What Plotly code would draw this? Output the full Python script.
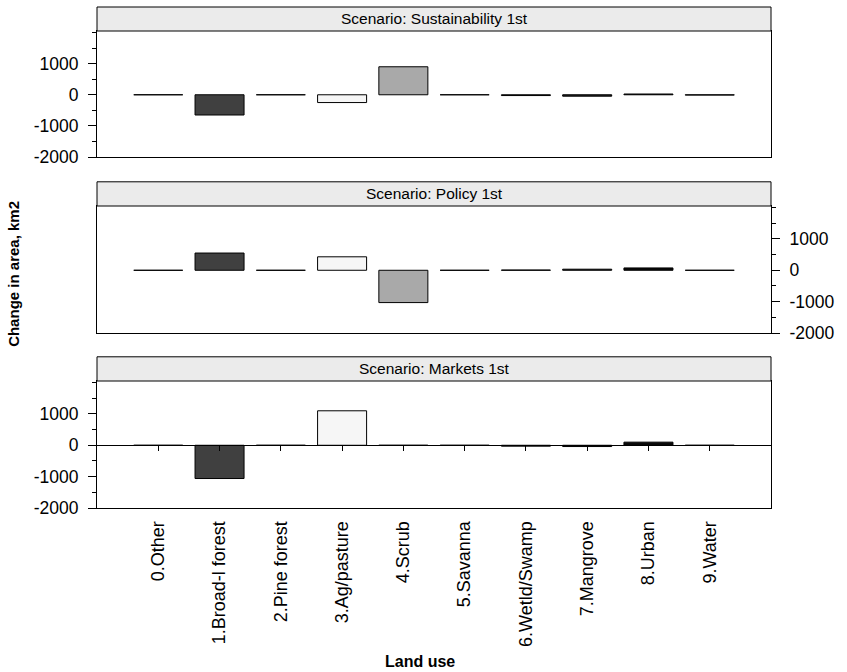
import plotly.graph_objects as go

categories = ["0.Other", "1.Broad-l forest", "2.Pine forest", "3.Ag/pasture", "4.Scrub",
              "5.Savanna", "6.Wetld/Swamp", "7.Mangrove", "8.Urban", "9.Water"]
cat_pos = list(range(10))
sustainability = [0, -650, 0, -250, 900, 0, -25, -45, 25, -10]
policy = [0, 550, 0, 430, -1030, 0, 8, 35, 75, 0]
markets = [0, -1060, 0, 1100, 0, 0, -28, -40, 100, 0]
scenarios = ["Scenario: Sustainability 1st", "Scenario: Policy 1st", "Scenario: Markets 1st"]
bar_colors = ["#d8d8d8", "#404040", "#9a9a9a", "#f6f6f6", "#a9a9a9",
              "#b5b5b5", "#4e4e4e", "#262626", "#0a0a0a", "#8c8c8c"]
y_ticks = [-2000, -1000, 0, 1000]
y_tick_text = ["-2000", "-1000", "0", "1000"]
y_range = [-2000, 2050]
x_range = [-1, 10]

W, H = 847, 672
ML, MR, MT, MB = 97, 69, 31, 164
plot_h = H - MT - MB
# panel pixel rows (top, bottom) in figure px
panels_px = [(31, 157), (206, 333), (381, 508)]
domains = [[(H - MB - b) / plot_h, (H - MB - t) / plot_h] for (t, b) in panels_px]

FONT = "Liberation Sans, Arial, sans-serif"

fig = go.Figure()
series = [sustainability, policy, markets]
for i, vals in enumerate(series):
    sfx = "" if i == 0 else str(i + 1)
    fig.add_trace(go.Bar(
        x=cat_pos, y=vals, width=0.8,
        marker=dict(color=bar_colors, line=dict(color="#000000", width=1)),
        xaxis="x" + sfx, yaxis="y" + sfx, showlegend=False, hoverinfo="skip"))

# helper trace for the zero-line axis in the bottom panel
fig.add_trace(go.Scatter(x=[], y=[], xaxis="x4", yaxis="y3", showlegend=False))

axis_common = dict(showgrid=False, zeroline=False, showline=True, mirror=True,
                   linecolor="black", linewidth=1)

layout = dict(width=W, height=H, margin=dict(l=ML, r=MR, t=MT, b=MB),
              paper_bgcolor="white", plot_bgcolor="white",
              font=dict(family=FONT, size=17, color="black"),
              bargap=0.2)

for i in range(3):
    sfx = "" if i == 0 else str(i + 1)
    xa = dict(axis_common, domain=[0, 1], range=x_range, anchor="y" + sfx,
              showticklabels=False, ticks="")
    if i > 0:
        xa["matches"] = "x"
    if i == 2:
        xa.update(showticklabels=True, tickvals=cat_pos, ticktext=categories,
                  tickangle=-90, ticklabelstandoff=5,
                  tickfont=dict(family=FONT, size=18, color="black"))
    ya = dict(axis_common, domain=domains[i], range=y_range, anchor="x" + sfx,
              tickvals=y_ticks, ticktext=y_tick_text,
              ticks="outside", ticklen=8, tickcolor="black", ticklabelstandoff=6,
              minor=dict(dtick=500, tick0=0, ticklen=4, ticks="outside", tickcolor="black"),
              side="right" if i == 1 else "left",
              tickfont=dict(family=FONT, size=17.5, color="black"))
    layout["xaxis" + sfx] = xa
    layout["yaxis" + sfx] = ya

# zero line with ticks in the bottom panel
zero_frac = (0 - y_range[0]) / (y_range[1] - y_range[0])
d3 = domains[2]
layout["xaxis4"] = dict(overlaying="x3", matches="x", anchor="free",
                        position=d3[0] + zero_frac * (d3[1] - d3[0]),
                        range=x_range, showgrid=False, zeroline=False,
                        showline=True, linecolor="black", linewidth=1,
                        tickvals=cat_pos, ticks="outside", ticklen=5, tickcolor="black",
                        showticklabels=False)

fig.update_layout(**layout)

strip_h = 24 / 126
shapes, annotations = [], []
for i, title in enumerate(scenarios):
    sfx = "" if i == 0 else str(i + 1)
    shapes.append(dict(type="rect", xref="x" + sfx + " domain", yref="y" + sfx + " domain",
                       x0=0, x1=1, y0=1, y1=1 + strip_h,
                       fillcolor="#ebebeb", line=dict(color="black", width=1)))
    annotations.append(dict(text=title, xref="x" + sfx + " domain", yref="y" + sfx + " domain",
                            x=0.5, y=1 + strip_h / 2, showarrow=False,
                            xanchor="center", yanchor="middle",
                            font=dict(family=FONT, size=15.5, color="black")))

annotations.append(dict(text="<b>Change in area, km2</b>", xref="paper", yref="paper",
                        x=(12 - ML) / (W - ML - MR), y=(H - MB - 274) / plot_h,
                        textangle=-90, showarrow=False, xanchor="center", yanchor="middle",
                        font=dict(family=FONT, size=15, color="black")))
annotations.append(dict(text="<b>Land use</b>", xref="paper", yref="paper",
                        x=(W / 2 - ML) / (W - ML - MR), y=(H - MB - 661) / plot_h,
                        showarrow=False, xanchor="center", yanchor="middle",
                        font=dict(family=FONT, size=16, color="black")))

fig.update_layout(shapes=shapes, annotations=annotations)
fig.write_html("out.html", config={"displayModeBar": False},
               post_script="document.body.style.margin='0';document.body.style.overflow='hidden';")
